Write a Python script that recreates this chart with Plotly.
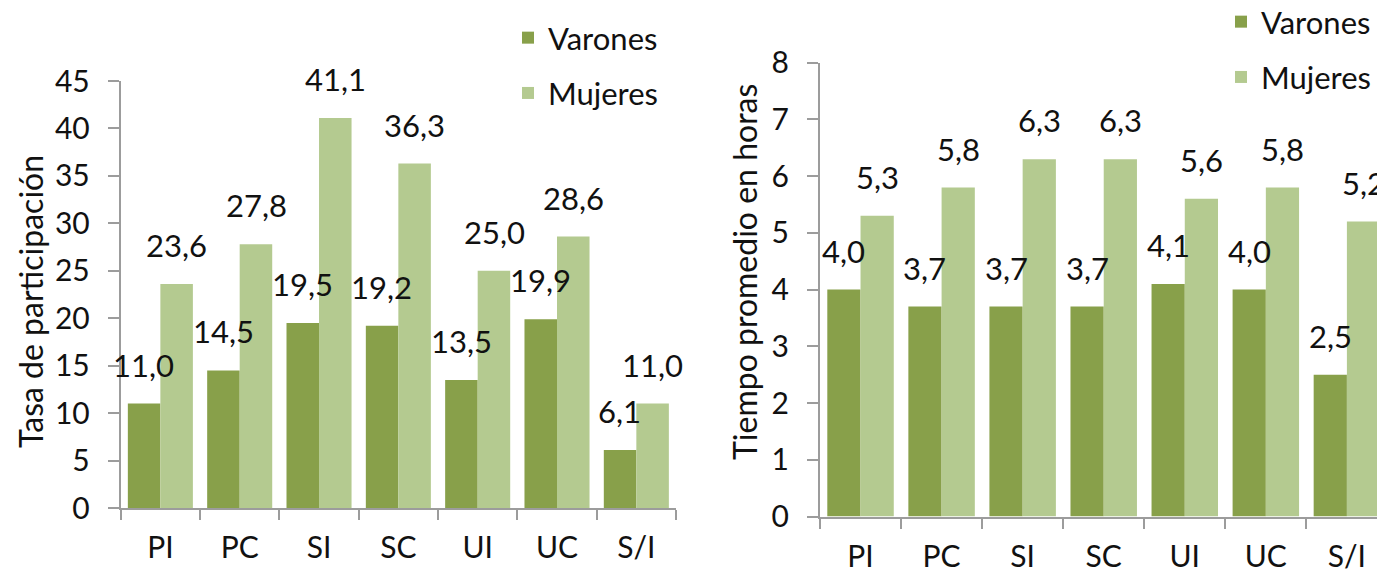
import plotly.graph_objects as go

# ==========================================================
# Participación y tiempo promedio por nivel educativo
# ==========================================================

categorias = ["PI", "PC", "SI", "SC", "UI", "UC", "S/I"]

tasa_varones = [11.0, 14.5, 19.5, 19.2, 13.5, 19.9, 6.1]
tasa_mujeres = [23.6, 27.8, 41.1, 36.3, 25.0, 28.6, 11.0]

horas_varones = [4.0, 3.7, 3.7, 3.7, 4.1, 4.0, 2.5]
horas_mujeres = [5.3, 5.8, 6.3, 6.3, 5.6, 5.8, 5.2]

tasa_ticks = [0, 5, 10, 15, 20, 25, 30, 35, 40, 45]
horas_ticks = [0, 1, 2, 3, 4, 5, 6, 7, 8]

VERDE_OSCURO = "#88A04A"
VERDE_CLARO = "#B4CA90"
TEXTO = "#111111"
EJE = "#9c9c9c"
FUENTE = "Lato"
W, H = 1385, 575
OFF = 8  # margen por defecto del <body> de la página


def px_x(p):
    return (p - OFF) / W


def px_y(p):
    return 1 - (p - OFF) / H


fig = go.Figure()

paneles = [
    ("x", "y", "legend", tasa_varones, tasa_mujeres),
    ("x2", "y2", "legend2", horas_varones, horas_mujeres),
]

for xa, ya, leg, varones, mujeres in paneles:
    for nombre, valores, color in [("Varones", varones, VERDE_OSCURO),
                                   ("Mujeres", mujeres, VERDE_CLARO)]:
        fig.add_trace(
            go.Bar(
                x=categorias,
                y=valores,
                name=nombre,
                marker=dict(color=color, line=dict(width=0)),
                xaxis=xa,
                yaxis=ya,
                legend=leg,
                legendgroup=nombre + leg,
                hoverinfo="skip",
            )
        )
        # etiquetas de datos, por encima de cada barra
        desplazamiento = -16.6 if nombre == "Varones" else 16.6
        for cat, val in zip(categorias, valores):
            fig.add_annotation(
                x=cat,
                y=val,
                xref=xa,
                yref=ya,
                text=f"{val:.1f}".replace(".", ","),
                showarrow=False,
                xanchor="center",
                yanchor="bottom",
                xshift=desplazamiento,
                yshift=18,
                font=dict(family=FUENTE, size=31, color=TEXTO),
            )

eje_x = dict(
    type="category",
    showline=True,
    linecolor=EJE,
    linewidth=2,
    ticks="outside",
    tickson="boundaries",
    ticklen=10,
    tickcolor=EJE,
    tickwidth=2,
    ticklabelstandoff=12,
    showgrid=False,
    zeroline=False,
    tickfont=dict(family=FUENTE, size=30, color=TEXTO),
    automargin=False,
    fixedrange=True,
)

eje_y = dict(
    showline=True,
    linecolor=EJE,
    linewidth=2,
    ticks="outside",
    ticklen=11,
    tickcolor=EJE,
    tickwidth=2,
    ticklabelstandoff=12,
    showgrid=False,
    zeroline=False,
    tickfont=dict(family=FUENTE, size=30, color=TEXTO),
    automargin=False,
    fixedrange=True,
)

fig.update_layout(
    width=W,
    height=H,
    margin=dict(l=0, r=0, t=0, b=0, autoexpand=False),
    paper_bgcolor="white",
    plot_bgcolor="white",
    barmode="group",
    bargap=0.18,
    bargroupgap=0,
    xaxis=dict(eje_x, domain=[px_x(120.7), px_x(676)], range=[-0.5, 6.5],
               anchor="y"),
    yaxis=dict(eje_y, domain=[px_y(508), px_y(81)], range=[0, 45],
               tickvals=tasa_ticks, anchor="x"),
    xaxis2=dict(eje_x, domain=[px_x(820), px_x(1385)], range=[-0.5, 6.47],
                anchor="y2"),
    yaxis2=dict(eje_y, domain=[px_y(516.5), px_y(62.7)], range=[0, 8],
                tickvals=horas_ticks, anchor="x2"),
    legend=dict(
        x=px_x(508), y=px_y(11), xanchor="left", yanchor="top",
        font=dict(family=FUENTE, size=31, color=TEXTO),
        tracegroupgap=12, bgcolor="rgba(0,0,0,0)",
    ),
    legend2=dict(
        x=px_x(1221), y=px_y(-5), xanchor="left", yanchor="top",
        font=dict(family=FUENTE, size=31, color=TEXTO),
        tracegroupgap=12, bgcolor="rgba(0,0,0,0)",
    ),
    showlegend=True,
)

# títulos de los ejes verticales
fig.add_annotation(
    x=px_x(30), y=px_y(302), xref="paper", yref="paper",
    text="Tasa de participación", textangle=-90, showarrow=False,
    xanchor="center", yanchor="middle",
    font=dict(family=FUENTE, size=32, color=TEXTO),
)
fig.add_annotation(
    x=px_x(745), y=px_y(272), xref="paper", yref="paper",
    text="Tiempo promedio en horas", textangle=-90, showarrow=False,
    xanchor="center", yanchor="middle",
    font=dict(family=FUENTE, size=32, color=TEXTO),
)

fig.write_html("out.html")
